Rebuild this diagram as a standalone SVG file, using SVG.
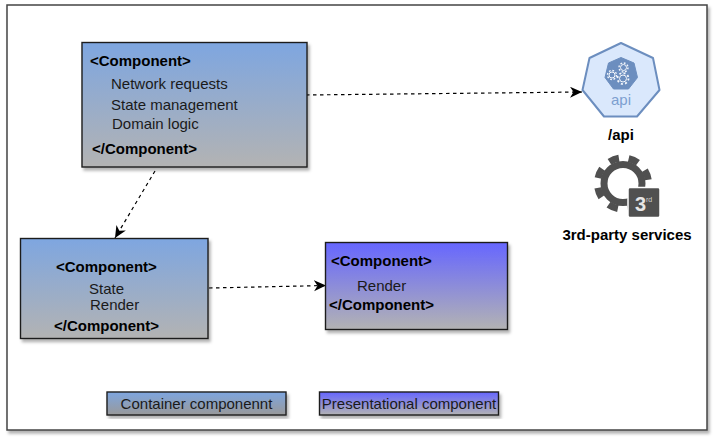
<svg xmlns="http://www.w3.org/2000/svg" width="713" height="437" viewBox="0 0 713 437">
<style>
text{font-family:"Liberation Sans",Arial,sans-serif;fill:#000}
.b{font-size:15px;font-weight:bold}
.r{font-size:15px;fill:#1a1a1a}
.c{stroke:#000;stroke-width:1.200;stroke-dasharray:3.500 3.500;fill:none;marker-end:url(#arr)}
.box{stroke:#1f1f1f;stroke-width:1.400;filter:url(#sh)}
.g{fill:none;stroke:#f4f7fc;stroke-width:1}
</style>
<defs>
<linearGradient id="gc" x1="0" y1="0" x2="0" y2="1"><stop offset="0" stop-color="#7ea6e0"/><stop offset="1" stop-color="#b3b3b3"/></linearGradient>
<linearGradient id="gp" x1="0" y1="0" x2="0" y2="1"><stop offset="0" stop-color="#6666ff"/><stop offset="1" stop-color="#b3b3b3"/></linearGradient>
<linearGradient id="gl" x1="0" y1="0" x2="0" y2="1"><stop offset="0" stop-color="#7ea6e0"/><stop offset="1" stop-color="#999"/></linearGradient>
<filter id="sh" x="-10%" y="-10%" width="120%" height="125%"><feDropShadow dx="2" dy="3" stdDeviation="1.500" flood-color="#000" flood-opacity=".3"/></filter>
<marker id="arr" markerUnits="userSpaceOnUse" markerWidth="14" markerHeight="12" refX="12" refY="5.500" orient="auto"><path d="M0 0L12 5.500L0 11L3.500 5.500Z" fill="#000"/></marker>
</defs>
<rect id="frame" x="7" y="5" width="700" height="425" fill="#fff" stroke="#444" stroke-width="1.500" filter="url(#sh)"/>
<g id="connectors">
<path class="c" d="M306 95L582 92"/>
<path class="c" d="M155 171L115 238"/>
<path class="c" d="M209 288L326 285.500"/>
</g>
<g id="node-container-main">
<rect class="box" x="82" y="42.500" width="225" height="124.500" fill="url(#gc)"/>
<text class="b" x="90" y="66">&lt;Component&gt;</text>
<text class="r" x="111" y="89">Network requests</text>
<text class="r" x="111" y="110">State management</text>
<text class="r" x="112" y="129">Domain logic</text>
<text class="b" x="92" y="154">&lt;/Component&gt;</text>
</g>
<g id="node-container-child">
<rect class="box" x="20.500" y="238.500" width="187.500" height="100" fill="url(#gc)"/>
<text class="b" x="56" y="272">&lt;Component&gt;</text>
<text class="r" x="89" y="294">State</text>
<text class="r" x="90" y="310">Render</text>
<text class="b" x="54" y="331">&lt;/Component&gt;</text>
</g>
<g id="node-presentational">
<rect class="box" x="325.500" y="242.500" width="182" height="87" fill="url(#gp)"/>
<text class="b" x="331" y="266">&lt;Component&gt;</text>
<text class="r" x="357" y="291">Render</text>
<text class="b" x="329" y="310">&lt;/Component&gt;</text>
</g>
<g id="node-api">
<path d="M621 43L653 58L659.500 90L637 116.500H604L582.500 90L589.500 58Z" fill="#dae8fc" stroke="#6c8ebf" stroke-width="2" stroke-linejoin="round"/>
<path d="M621 57.500L634 63L637.500 77.500L628.500 89H613.500L605 77.500L608.500 63Z" fill="#6c8ebf" stroke="#6c8ebf" stroke-linejoin="round"/>
<circle class="g" cx="623.500" cy="67.500" r="3"/><circle cx="623.500" cy="67.500" r="4.500" fill="none" stroke="#f4f7fc" stroke-width="1.400" stroke-dasharray="1.800 1.700"/>
<circle class="g" cx="612" cy="75" r="3"/><circle cx="612" cy="75" r="4.500" fill="none" stroke="#f4f7fc" stroke-width="1.400" stroke-dasharray="1.800 1.700"/>
<circle class="g" cx="623" cy="78.500" r="3.500"/><circle cx="623" cy="78.500" r="5.500" fill="none" stroke="#f4f7fc" stroke-width="1.800" stroke-dasharray="2 2.300"/>
<text x="621" y="105" text-anchor="middle" style="font-size:15px;fill:#7d9fd0">api</text>
<text class="b" x="621" y="140" text-anchor="middle">/api</text>
</g>
<g id="node-third-party">
<circle cx="623" cy="183.500" r="19" fill="none" stroke="#505050" stroke-width="7"/>
<circle cx="623" cy="183.500" r="25.500" fill="none" stroke="#505050" stroke-width="7" stroke-dasharray="10 10.030" stroke-dashoffset="15"/>
<rect x="628" y="187.500" width="32" height="30" rx="2" fill="#505050" stroke="#fff" stroke-width="1.500"/>
<text x="635" y="211" style="font-size:20px;font-weight:bold;fill:#e6e6e6">3</text>
<text x="646" y="202" style="font-size:7px;fill:#cfcfcf">rd</text>
<text class="b" x="627" y="240" text-anchor="middle">3rd-party services</text>
</g>
<g id="legend-container">
<rect class="box" x="107" y="392" width="179" height="23" fill="url(#gl)"/>
<text class="r" x="196.500" y="409" text-anchor="middle">Container componennt</text>
</g>
<g id="legend-presentational">
<rect class="box" x="319.500" y="392" width="179" height="23" fill="url(#gp)"/>
<text class="r" x="409" y="409" text-anchor="middle">Presentational component</text>
</g>
</svg>
